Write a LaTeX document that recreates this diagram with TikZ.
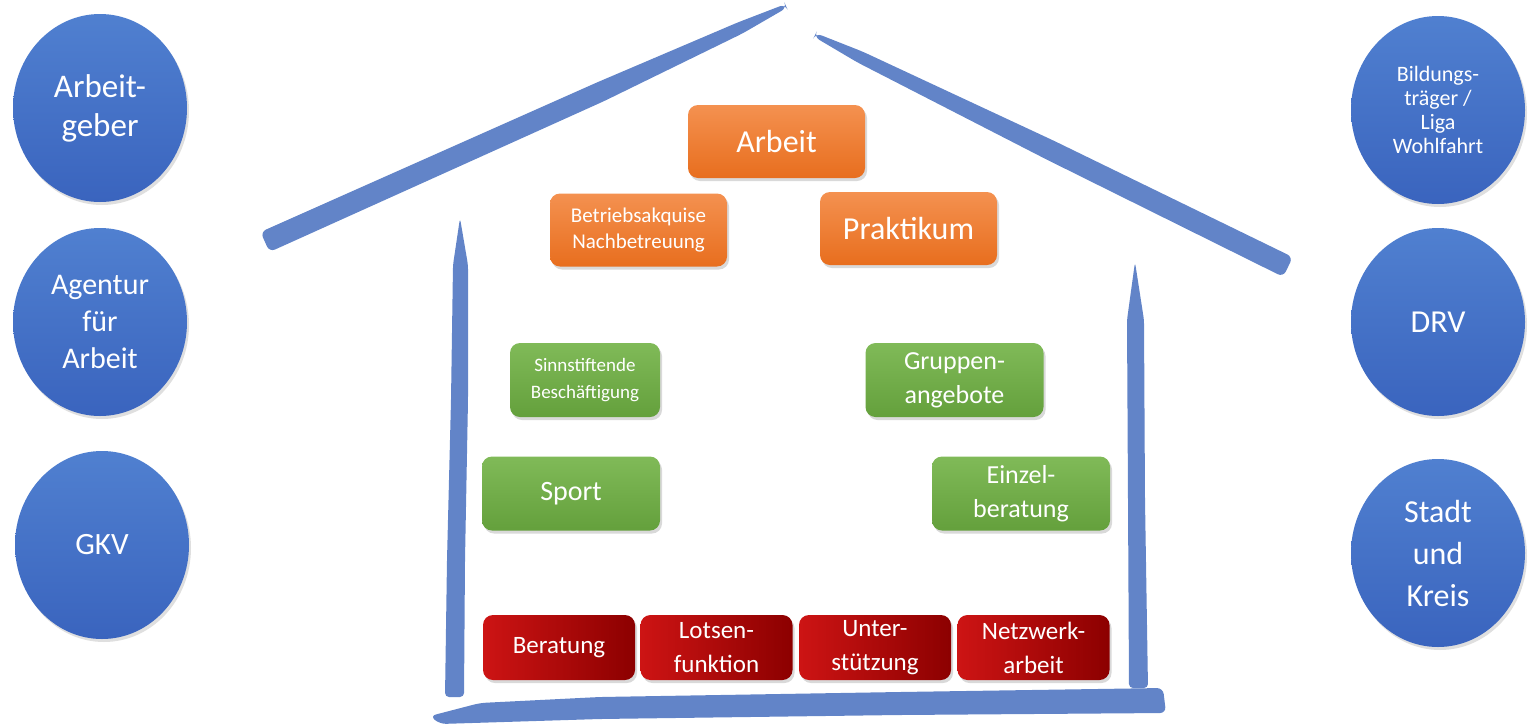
\documentclass[tikz,border=0pt]{standalone}
\usepackage{fontspec}
\setmainfont{Carlito}
\usetikzlibrary{shadows,shapes.geometric}
\definecolor{brush}{RGB}{98,132,200}
\definecolor{circtop}{RGB}{80,128,208}
\definecolor{circbot}{RGB}{58,100,190}
\definecolor{orangetop}{RGB}{244,145,80}
\definecolor{orangebot}{RGB}{232,110,30}
\definecolor{greentop}{RGB}{128,186,88}
\definecolor{greenbot}{RGB}{100,160,60}
\definecolor{redleft}{RGB}{205,20,20}
\definecolor{redright}{RGB}{140,0,0}
\newcommand{\fs}[2]{\fontsize{#1}{#2}\selectfont}
\begin{document}
\begin{tikzpicture}[x=0.5pt,y=-0.5pt,
    partner/.style={ellipse,minimum width=87pt,minimum height=94pt,inner sep=0pt,top color=circtop,bottom color=circbot,
        text=white,align=center,drop shadow={opacity=0.25,shadow xshift=1pt,shadow yshift=-1.5pt}},
    tile/.style={rounded corners=5pt,inner sep=0pt,text=white,align=center,
        drop shadow={opacity=0.3,shadow xshift=1pt,shadow yshift=-1.5pt}},
    orangebox/.style={tile,minimum width=88.5pt,minimum height=36.5pt,top color=orangetop,bottom color=orangebot},
    greenbox/.style={tile,minimum width=89pt,minimum height=37pt,top color=greentop,bottom color=greenbot},
    redbox/.style={tile,minimum width=76pt,minimum height=32.5pt,left color=redleft,right color=redright}]
    \useasboundingbox (0,0) rectangle (1533,724);

    % house drawn as brush strokes
    \fill[brush,rounded corners=3pt] (260.5,232) -- (595.9,82.9) -- (737.6,22.5) -- (785.2,4.2)
        -- (786.8,7.8) -- (742.4,33.5) -- (604.1,101.1) -- (269.5,252) -- cycle;
    \fill[brush,rounded corners=3pt] (815.9,33.2) -- (862.6,51.6) -- (1054.4,141) -- (1292.8,257.1)
        -- (1283.2,276.9) -- (1045.6,159) -- (857.4,62.4) -- (814.1,36.8) -- cycle;
    \fill[brush,rounded corners=2pt] (460,218) -- (468,265) -- (468,400) -- (465,560) -- (464,697)
        -- (445,697) -- (447,560) -- (451,400) -- (453,265) -- cycle;
    \fill[brush,rounded corners=2pt] (1135,262) -- (1144,320) -- (1145,500) -- (1148,688)
        -- (1129,688) -- (1128,500) -- (1127,320) -- cycle;
    \fill[brush,rounded corners=3pt] (430,716) -- (480,703) -- (600,697) -- (900,692) -- (1163,688)
        -- (1166,713) -- (900,715) -- (600,719) -- (440,724) -- cycle;

    % partners left
    \node[partner,font=\fs{16.5}{19.5}] (arbeitgeber) at (100,108) {Arbeit-\\geber};
    \node[partner,font=\fs{15}{18.5}] (agentur) at (100,322) {Agentur\\für\\Arbeit};
    \node[partner,font=\fs{15.5}{18}] (gkv) at (102,545) {GKV};

    % partners right
    \node[partner,font=\fs{11}{12}] (bildung) at (1438,110) {Bildungs-\\träger /\\Liga\\Wohlfahrt};
    \node[partner,font=\fs{16}{18}] (drv) at (1438,322) {DRV};
    \node[partner,font=\fs{16}{21}] (stadt) at (1438,553) {Stadt\\und\\Kreis};

    % work
    \node[orangebox,font=\fs{16}{19}] (arbeit) at (776.5,141.5) {Arbeit};
    \node[orangebox,font=\fs{10.5}{13}] (akquise) at (638.5,230) {Betriebsakquise\\Nachbetreuung};
    \node[orangebox,font=\fs{16}{19}] (praktikum) at (908.5,228.5) {Praktikum};

    % activities
    \node[greenbox,minimum width=75pt,font=\fs{9.5}{13.5}] (sinn) at (585,380) {Sinnstiftende\\Beschäftigung};
    \node[greenbox,font=\fs{13}{17}] (gruppen) at (954.5,380) {Gruppen-\\angebote};
    \node[greenbox,font=\fs{14}{17}] (sport) at (571,493.5) {Sport};
    \node[greenbox,font=\fs{13}{17}] (einzel) at (1021,493.5) {Einzel-\\beratung};

    % foundation
    \node[redbox,font=\fs{12.5}{17}] (beratung) at (559,647.5) {Beratung};
    \node[redbox,font=\fs{12.5}{17}] (lotsen) at (716.5,647.5) {Lotsen-\\funktion};
    \node[redbox,font=\fs{12.5}{17}] (unter) at (875,647.5) {Unter-\\stützung};
    \node[redbox,font=\fs{12.5}{17}] (netz) at (1033.5,647.5) {Netzwerk-\\arbeit};
\end{tikzpicture}
\end{document}
